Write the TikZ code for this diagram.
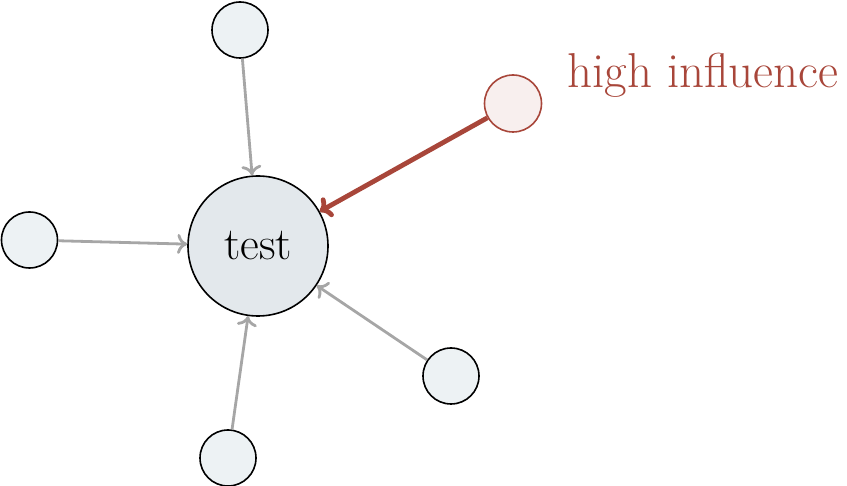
\documentclass[tikz,border=0pt]{standalone}
\usetikzlibrary{arrows.meta}
\definecolor{redc}{HTML}{A8463A}
\definecolor{redfill}{HTML}{F8EFEE}
\definecolor{greyc}{HTML}{A6A6A6}
\definecolor{mainfill}{HTML}{E3E8EC}
\definecolor{smallfill}{HTML}{EDF2F4}
\begin{document}
\begin{tikzpicture}[x=0.5pt,y=-0.5pt,
  mainnode/.style={circle,draw=black,line width=0.8pt,fill=mainfill,minimum size=70pt,inner sep=0pt,font=\fontsize{23}{27}\selectfont},
  smallnode/.style={circle,draw=black,line width=0.8pt,fill=smallfill,minimum size=28pt,inner sep=0pt},
  rednode/.style={circle,draw=redc,line width=0.8pt,fill=redfill,minimum size=28.5pt,inner sep=0pt},
  greyarrow/.style={draw=greyc,line width=1.4pt,-{To[length=5pt,width=10pt]}},
  redarrow/.style={draw=redc,line width=2.4pt,-{To[length=5.5pt,width=11pt]}},
  redlabel/.style={text=redc,font=\fontsize{24.5}{29}\selectfont,inner sep=0pt}]
\useasboundingbox (0,0) rectangle (847,486);
\node[mainnode] (c) at (258,246) {test};
\node[smallnode] (t) at (240,30) {};
\node[smallnode] (l) at (29.5,240) {};
\node[smallnode] (b) at (228,458) {};
\node[smallnode] (br) at (451,376) {};
\node[rednode] (r) at (513,103.5) {};
\node[redlabel] (lab) at (703,75) {high influence};
\draw[greyarrow] (t) -- (c);
\draw[greyarrow] (l) -- (c);
\draw[greyarrow] (b) -- (c);
\draw[greyarrow] (br) -- (c);
\draw[redarrow] (r) -- (c);
\end{tikzpicture}
\end{document}
